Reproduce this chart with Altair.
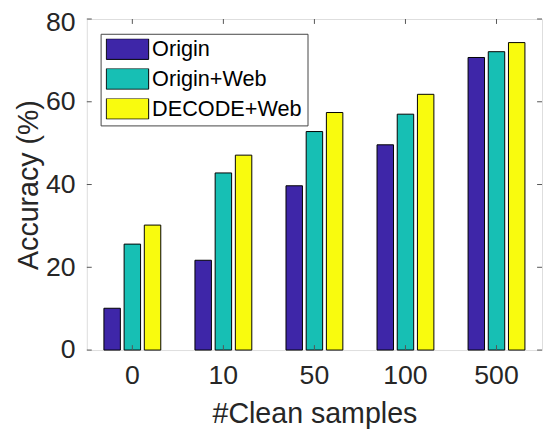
import altair as alt
import pandas as pd

categories = ["0", "10", "50", "100", "500"]
series = ["Origin", "Origin+Web", "DECODE+Web"]
origin = [10.1, 21.7, 39.7, 49.6, 70.7]
origin_web = [25.6, 42.8, 52.8, 57.0, 72.1]
decode_web = [30.2, 47.1, 57.4, 61.8, 74.3]
colors = ["#3E26A8", "#17BFB4", "#F9FB0E"]
y_ticks = [0, 20, 40, 60, 80]

rows = []
for name, vals in zip(series, [origin, origin_web, decode_web]):
    for c, v in zip(categories, vals):
        rows.append({"cat": c, "series": name, "value": v})
df = pd.DataFrame(rows)
ydf = pd.DataFrame({"v": y_ticks})
xdf = pd.DataFrame({"cat": categories})

W, H = 462, 336
FRAME = "#555555"
FONT = "Liberation Sans"

xscale = alt.Scale(domain=categories, paddingInner=0, paddingOuter=0)
yscale = alt.Scale(domain=[0, 80], nice=False)

bars = alt.Chart(df).mark_bar(stroke="black", strokeWidth=1).encode(
    x=alt.X("cat:N", sort=categories, scale=xscale,
            axis=alt.Axis(title="#Clean samples", labelAngle=0, ticks=False, domain=False,
                          labelFontSize=27, titleFontSize=29, labelPadding=13,
                          titlePadding=12, labelColor="#262626", titleColor="#262626",
                          labelFont=FONT, titleFont=FONT, titleFontWeight="normal")),
    xOffset=alt.XOffset("series:N", sort=series,
                        scale=alt.Scale(domain=series, paddingInner=0.185, paddingOuter=0.846)),
    y=alt.Y("value:Q", scale=yscale,
            axis=alt.Axis(title="Accuracy (%)", values=y_ticks, ticks=False, domain=False,
                          grid=False, labelFontSize=27, titleFontSize=29, labelPadding=12,
                          labelOffset={"condition": {"test": "datum.value === 80", "value": 4}, "value": 0},
                          titlePadding=2, labelColor="#262626", titleColor="#262626",
                          labelFont=FONT, titleFont=FONT, titleFontWeight="normal")),
    color=alt.Color("series:N", sort=series,
                    scale=alt.Scale(domain=series, range=colors),
                    legend=alt.Legend(title=None, orient="none", legendX=14, legendY=15,
                                      symbolType="M-2,-0.976H2V0.976H-2Z", symbolSize=462,
                                      symbolOffset=10.75, clipHeight=21,
                                      symbolStrokeColor="black", symbolStrokeWidth=1,
                                      symbolOpacity=1,
                                      labelFontSize=22, labelFont=FONT, labelColor="black",
                                      labelOffset=13.5, rowPadding=7.3, padding=5,
                                      strokeColor="#444444", fillColor="white",
                                      labelLimit=300)),
)

left_ticks = alt.Chart(ydf).mark_rule(color=FRAME).encode(
    y=alt.Y("v:Q", scale=yscale), x=alt.value(0), x2=alt.value(5))
right_ticks = alt.Chart(ydf).mark_rule(color=FRAME).encode(
    y=alt.Y("v:Q", scale=yscale), x=alt.value(W - 5), x2=alt.value(W))
bottom_ticks = alt.Chart(xdf).mark_rule(color=FRAME).encode(
    x=alt.X("cat:N", sort=categories, scale=xscale), y=alt.value(H), y2=alt.value(H - 5))
top_ticks = alt.Chart(xdf).mark_rule(color=FRAME).encode(
    x=alt.X("cat:N", sort=categories, scale=xscale), y=alt.value(0), y2=alt.value(5))

chart = alt.layer(bars, left_ticks, right_ticks, bottom_ticks, top_ticks).properties(
    width=W, height=H,
    autosize=alt.AutoSizeParams(type="none"),
    padding={"left": 80, "top": 8, "right": 1, "bottom": 80},
).configure_view(stroke=FRAME, strokeWidth=1).configure(background="white")

chart.save("out.html", embed_options={"renderer": "svg", "actions": False})
